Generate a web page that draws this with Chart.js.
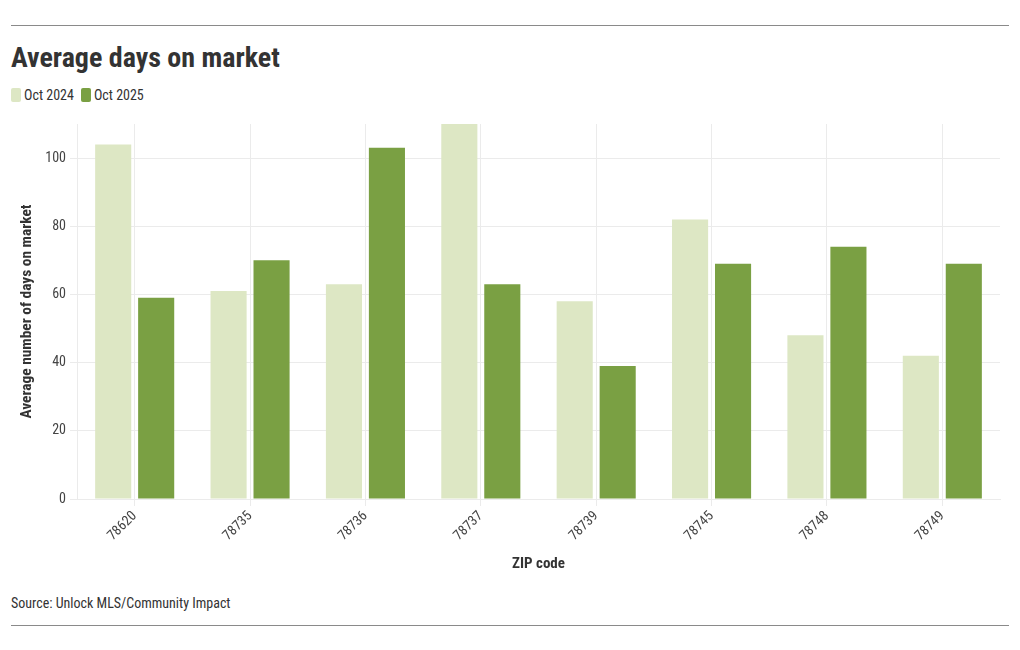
<!DOCTYPE html>
<html><head><meta charset="utf-8">
<script src="https://cdn.jsdelivr.net/npm/chart.js@4"></script>
<style>
html,body{margin:0;padding:0;background:#fff;}
body{width:1020px;height:650px;position:relative;overflow:hidden;font-family:"Roboto Condensed","Liberation Sans Narrow",Roboto,sans-serif;color:#333;}
.rule{position:absolute;left:11px;width:998px;height:1px;background:#8a8a8a;}
#title{position:absolute;left:11px;top:44px;font-size:28px;line-height:28px;font-weight:700;color:#333;white-space:nowrap;}
#legend{position:absolute;left:11px;top:88px;height:14px;display:flex;align-items:center;font-size:14px;line-height:14px;color:#333;white-space:nowrap;}
#legend .sw{display:inline-block;width:10px;height:14px;border-radius:2px;margin-right:3px;}
#legend .item{display:flex;align-items:center;margin-right:7px;}
#source{position:absolute;left:11px;top:596px;font-size:14px;line-height:14px;color:#333;white-space:nowrap;}
#wrap{position:absolute;left:0;top:110px;width:1020px;height:470px;}
</style></head>
<body>
<div class="rule" style="top:25px"></div>
<div id="title">Average days on market</div>
<div id="legend"></div>
<div id="wrap"><canvas id="c" width="1020" height="470"></canvas></div>
<div id="source">Source: Unlock MLS/Community Impact</div>
<div class="rule" style="top:625px"></div>
<script>
const categories = ['78620','78735','78736','78737','78739','78745','78748','78749'];
const seriesNames = ['Oct 2024','Oct 2025'];
const oct2024 = [104, 61, 63, 110, 58, 82, 48, 42];
const oct2025 = [59, 70, 103, 63, 39, 69, 74, 69];
const yTicks = [0, 20, 40, 60, 80, 100];
const yMax = 110;
const colors = ['#dde7c4', '#7aa043'];

const FONT = '"Roboto Condensed", "Liberation Sans Narrow", Roboto, sans-serif';

const legend = document.getElementById('legend');
seriesNames.forEach((n, i) => {
  const it = document.createElement('span'); it.className = 'item';
  const sw = document.createElement('span'); sw.className = 'sw'; sw.style.background = colors[i];
  const tx = document.createElement('span'); tx.textContent = n;
  it.appendChild(sw); it.appendChild(tx); legend.appendChild(it);
});

const gridColor = '#ebebeb';
new Chart(document.getElementById('c'), {
  type: 'bar',
  data: {
    labels: categories,
    datasets: [
      {label: seriesNames[0], data: oct2024, backgroundColor: colors[0], categoryPercentage: 0.745, barPercentage: 0.84},
      {label: seriesNames[1], data: oct2025, backgroundColor: colors[1], categoryPercentage: 0.745, barPercentage: 0.84}
    ]
  },
  options: {
    responsive: false,
    animation: false,
    layout: {padding: {top: 14, right: 20, bottom: 0, left: 0}},
    plugins: {legend: {display: false}, tooltip: {enabled: false}},
    scales: {
      x: {
        grid: {display: true, offset: false, color: gridColor, tickLength: 7, drawTicks: true},
        border: {display: true, color: gridColor},
        ticks: {minRotation: 45, maxRotation: 45, padding: 2, color: '#444', font: {family: FONT, size: 14}},
        title: {display: true, text: 'ZIP code', color: '#333', font: {family: FONT, size: 15, weight: 'bold'}, padding: {top: 0, bottom: 7}},
        afterFit: s => { s.height = 81; }
      },
      y: {
        min: 0, max: yMax,
        afterBuildTicks: s => { s.ticks = yTicks.map(v => ({value: v})); },
        grid: {color: gridColor, tickLength: 7, drawTicks: true},
        border: {display: true, color: gridColor},
        ticks: {padding: 4, color: '#444', font: {family: FONT, size: 14}},
        title: {display: true, text: 'Average number of days on market', color: '#333', font: {family: FONT, size: 15.4, weight: 'bold'}, padding: {top: 18, bottom: 0}},
        afterFit: s => { s.width = 77; }
      }
    }
  }
});
</script>
</body></html>
